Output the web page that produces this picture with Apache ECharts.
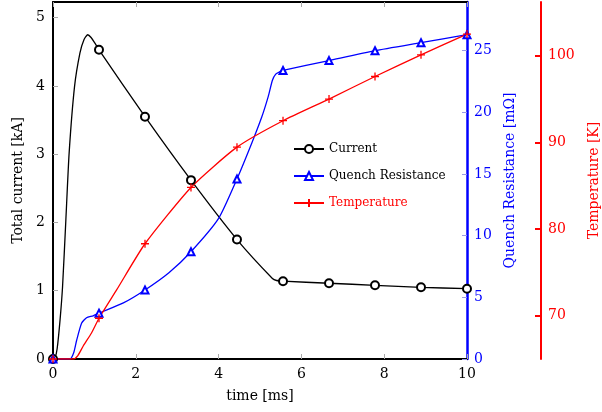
<!DOCTYPE html>
<html>
<head>
<meta charset="utf-8">
<script src="https://cdn.jsdelivr.net/npm/echarts@6/dist/echarts.min.js"></script>
<style>
  html, body { margin: 0; padding: 0; background: #fff; }
  #chart { width: 602px; height: 412px; }
</style>
</head>
<body>
<div id="chart"></div>
<script>
// marker positions (every 10/9 ms)
const markerTimes = [0, 1.111, 2.222, 3.333, 4.444, 5.556, 6.667, 7.778, 8.889, 10];

const currentTime = [0, 0.05, 0.1, 0.17, 0.23, 0.31, 0.39, 0.52, 0.65, 0.75, 0.84, 0.92, 1.0, 1.111, 2.222, 3.333, 4.444, 5.3, 5.4, 5.556, 6.667, 7.778, 8.889, 10];
const currentKA = [0, 0.02, 0.15, 0.57, 1.05, 2.03, 3.02, 3.99, 4.48, 4.68, 4.75, 4.71, 4.64, 4.53, 3.55, 2.62, 1.75, 1.18, 1.15, 1.14, 1.11, 1.08, 1.05, 1.03];

const resTime = [0, 0.41, 0.5, 0.57, 0.69, 0.81, 0.97, 1.111, 1.7, 2.222, 2.8, 3.333, 4.0, 4.444, 4.8, 5.04, 5.2, 5.3, 5.38, 5.48, 5.556, 6.667, 7.778, 8.889, 10];
const resMOhm = [0, 0, 0.5, 1.5, 2.9, 3.35, 3.5, 3.72, 4.55, 5.6, 7.0, 8.7, 11.4, 14.6, 17.5, 19.6, 21.3, 22.6, 23.1, 23.3, 23.4, 24.2, 25.0, 25.65, 26.3];

const tempTime = [0, 0.49, 0.6, 0.73, 0.93, 1.111, 1.54, 2.222, 3.333, 4.444, 5.556, 6.667, 7.778, 8.889, 10];
const tempK = [65, 65, 65.4, 66.5, 68.0, 69.7, 73.0, 78.3, 84.8, 89.45, 92.5, 95.0, 97.6, 100.1, 102.5];

const xTicks = [0, 2, 4, 6, 8, 10];
const currentTicks = [0, 1, 2, 3, 4, 5];
const resTicks = [0, 5, 10, 15, 20, 25];
const tempTicks = [70, 80, 90, 100];

const font = "'DejaVu Serif', serif";

function points(ts, vs) {
  return ts.map((t, i) => ({
    value: [t, vs[i]],
    symbol: markerTimes.includes(t) ? undefined : 'none'
  }));
}

let chartDom = document.getElementById('chart');
let myChart = echarts.init(chartDom);

let option = {
  animation: false,
  textStyle: { fontFamily: font },
  grid: { left: 53, right: 135, top: 2, bottom: 53, outerBoundsMode: 'none', containLabel: false },
  legend: {
    orient: 'vertical',
    left: 288,
    top: 138,
    itemWidth: 30,
    itemHeight: 10,
    itemGap: 15,
    textStyle: { fontFamily: font, fontSize: 12, color: '#000' },
    data: [
      { name: 'Current' },
      { name: 'Quench Resistance' },
      { name: 'Temperature', textStyle: { color: 'red' } }
    ]
  },
  xAxis: [
    {
      type: 'value',
      min: 0,
      max: 10,
      name: 'time [ms]',
      nameLocation: 'middle',
      nameGap: 30,
      nameTextStyle: { fontFamily: font, fontSize: 14, color: '#000' },
      axisLine: { onZero: false, lineStyle: { color: '#000', width: 2 } },
      axisTick: { inside: true, length: 5, customValues: xTicks, lineStyle: { color: '#aaa' } },
      axisLabel: { customValues: xTicks, margin: 8, fontFamily: font, fontSize: 14, color: '#000' },
      splitLine: { show: false }
    },
    {
      type: 'value',
      position: 'top',
      min: 0,
      max: 10,
      axisLine: { onZero: false, lineStyle: { color: '#000', width: 2 } },
      axisTick: { inside: true, length: 5, customValues: xTicks, lineStyle: { color: '#aaa' } },
      axisLabel: { show: false },
      splitLine: { show: false }
    }
  ],
  yAxis: [
    {
      type: 'value',
      position: 'left',
      min: 0,
      max: 5.23,
      name: 'Total current [kA]',
      nameLocation: 'middle',
      nameGap: 28,
      nameRotate: 90,
      nameTextStyle: { fontFamily: font, fontSize: 14, color: '#000' },
      axisLine: { show: true, onZero: false, lineStyle: { color: '#000', width: 2 } },
      axisTick: { show: true, inside: true, length: 5, customValues: currentTicks, lineStyle: { color: '#aaa' } },
      axisLabel: { customValues: currentTicks, margin: 8, fontFamily: font, fontSize: 14, color: '#000' },
      splitLine: { show: false }
    },
    {
      type: 'value',
      position: 'right',
      min: 0,
      max: 28.95,
      name: 'Quench Resistance [mΩ]',
      nameLocation: 'middle',
      nameGap: 36,
      nameRotate: 90,
      nameTextStyle: { fontFamily: font, fontSize: 14, color: 'blue' },
      axisLine: { show: true, onZero: false, lineStyle: { color: 'blue', width: 2.5 } },
      axisTick: { show: true, inside: true, length: 5, customValues: resTicks, lineStyle: { color: '#9a9ae6' } },
      axisLabel: { customValues: resTicks, margin: 7, fontFamily: font, fontSize: 14, color: 'blue' },
      splitLine: { show: false }
    },
    {
      type: 'value',
      position: 'right',
      offset: 74,
      min: 65,
      max: 106.2,
      name: 'Temperature [K]',
      nameLocation: 'middle',
      nameGap: 46,
      nameRotate: 90,
      nameTextStyle: { fontFamily: font, fontSize: 14, color: 'red' },
      axisLine: { show: true, onZero: false, lineStyle: { color: 'red', width: 2 } },
      axisTick: { show: true, inside: true, length: 6, customValues: tempTicks, lineStyle: { color: 'red', width: 2 } },
      axisLabel: { customValues: tempTicks, margin: 7, fontFamily: font, fontSize: 14, color: 'red' },
      splitLine: { show: false }
    }
  ],
  series: [
    {
      name: 'Current',
      type: 'line',
      xAxisIndex: 0,
      yAxisIndex: 0,
      smooth: 0.2,
      symbol: 'emptyCircle',
      symbolSize: 8,
      color: '#000',
      itemStyle: { color: '#000', borderColor: '#000', borderWidth: 1.2 },
      lineStyle: { color: '#000', width: 1.3 },
      data: points(currentTime, currentKA)
    },
    {
      name: 'Quench Resistance',
      type: 'line',
      xAxisIndex: 0,
      yAxisIndex: 1,
      smooth: 0.2,
      symbol: 'emptyTriangle',
      symbolSize: 7,
      color: 'blue',
      itemStyle: { color: 'blue', borderColor: 'blue', borderWidth: 1.2 },
      lineStyle: { color: 'blue', width: 1.3 },
      data: points(resTime, resMOhm)
    },
    {
      name: 'Temperature',
      type: 'line',
      xAxisIndex: 0,
      yAxisIndex: 2,
      smooth: 0.2,
      symbol: 'path://M5,0 L5,10 M0,5 L10,5',
      symbolSize: 8,
      color: 'red',
      itemStyle: { color: 'red', borderColor: 'red', borderWidth: 1.3 },
      lineStyle: { color: 'red', width: 1.3 },
      data: points(tempTime, tempK)
    }
  ]
};

myChart.setOption(option);
</script>
</body>
</html>
